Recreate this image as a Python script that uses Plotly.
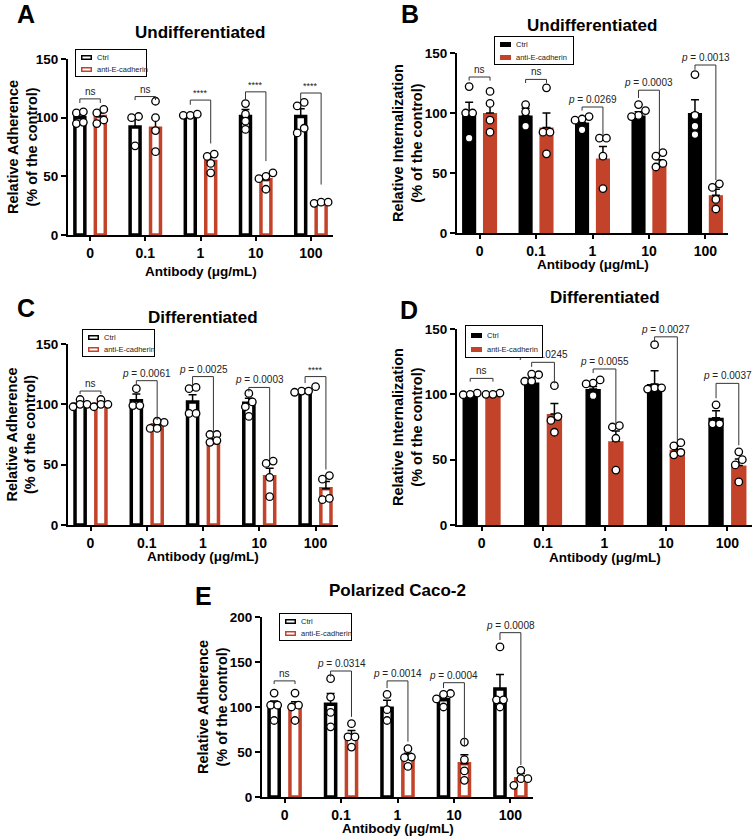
import plotly.graph_objects as go

W, H = 755, 838
FONT = "Liberation Sans, Arial, Helvetica, sans-serif"
ORANGE = "#C2432A"
BLACK = "#000000"

categories = ["0", "0.1", "1", "10", "100"]

# ---------------- Panel A (Undifferentiated, adherence)
a_ctrl_mean = [100, 92, 102, 101, 101]
a_ctrl_sem = [3, 9, 1, 6, 6.5]
a_anti_mean = [101, 91, 62.6, 47, 26.5]
a_anti_sem = [3, 9, 4, 4, 1]
a_ctrl_pts = [[104, 105, 95, 96], [101, 100, 76], [102, 102, 103], [112, 103, 97, 90], [110, 113, 91, 87]]
a_anti_pts = [[104, 107, 95, 98], [114, 100, 89, 71], [67, 69, 61, 53], [50, 53, 48, 39], [27, 28, 28]]
a_sig = ["ns", "ns", "****", "****", "****"]

# ---------------- Panel B (Undifferentiated, internalization)
b_ctrl_mean = [100, 98, 92, 98, 100]
b_ctrl_sem = [9, 6, 4, 3, 11]
b_anti_mean = [100, 88, 62, 57, 31.5]
b_anti_sem = [8, 12, 10, 4, 5]
b_ctrl_pts = [[122, 100, 100, 79], [107, 101, 89], [97, 95, 86, 94], [107, 102, 98, 97], [132, 98, 89, 82]]
b_anti_pts = [[118, 108, 94, 84], [121, 84, 84, 66], [79, 79, 64, 37], [64, 67, 55, 58], [38, 41, 28, 20]]
b_sig = ["ns", "ns", "<i>p</i> = 0.0269", "<i>p</i> = 0.0003", "<i>p</i> = 0.0013"]

# ---------------- Panel C (Differentiated, adherence)
c_ctrl_mean = [100, 103, 102, 101, 111]
c_ctrl_sem = [2, 5.5, 6, 4, 2]
c_anti_mean = [100, 83, 68, 40, 30]
c_anti_sem = [2, 2, 3.5, 7, 6]
c_ctrl_pts = [[104, 98, 100, 100], [113, 99, 99], [113, 114, 92.5, 92.5], [109, 102, 98, 90], [114.6, 111, 111, 110]]
c_anti_pts = [[104, 98, 100, 100], [85, 86, 80, 80], [75, 75, 68.5, 70], [51, 53, 39.5, 23.5], [38, 41, 21, 22]]
c_sig = ["ns", "<i>p</i> = 0.0061", "<i>p</i> = 0.0025", "<i>p</i> = 0.0003", "****"]

# ---------------- Panel D (Differentiated, internalization)
d_ctrl_mean = [100, 109, 104, 108, 82]
d_ctrl_sem = [1, 3.5, 2, 10, 5.5]
d_anti_mean = [100, 85, 64, 57.5, 45.5]
d_anti_sem = [1, 8, 8, 3, 5]
d_ctrl_pts = [[99.7, 101, 100], [115, 115.5, 110, 110], [111, 108.6, 108, 99], [138, 105, 105, 104], [92, 77.4, 77.4]]
d_anti_pts = [[100, 101, 100], [106.6, 83, 80, 71], [75, 76, 66.4, 42], [53.7, 55.5, 60.5, 63], [56, 50, 46, 33]]
d_sig = ["ns", "<i>p</i> = 0.0245", "<i>p</i> = 0.0055", "<i>p</i> = 0.0027", "<i>p</i> = 0.0037"]

# ---------------- Panel E (Polarized Caco-2, adherence)
e_ctrl_mean = [100.7, 103, 98.5, 108, 120]
e_ctrl_sem = [6, 12, 9, 3, 16]
e_anti_mean = [100.7, 68.5, 43.7, 37, 20.4]
e_anti_sem = [5, 5.5, 5, 10, 5.6]
e_ctrl_pts = [[115.5, 102, 102, 85], [131.5, 111, 94, 78], [114, 97, 85], [115, 114, 109, 100], [166.7, 108, 108, 100]]
e_anti_pts = [[115.5, 102, 100, 85], [81.5, 66.7, 66.7, 55.5], [53.7, 44.4, 43.7, 34], [61, 41.5, 29, 18.5], [29.6, 20.4, 20.4, 13]]
e_sig = ["ns", "<i>p</i> = 0.0314", "<i>p</i> = 0.0014", "<i>p</i> = 0.0004", "<i>p</i> = 0.0008"]

# ---------------- bracket geometry (layout only): (top, left leg end, right leg end)
a_brk = [(116, 112.5, 112.5), (118, 115, 115), (115, 111, 78), (122, 115, 63), (121, 115, 43)]
b_brk = [(130, 127, 127), (128, 125, 125), (105, 102, 80), (119, 112.5, 68), (140, 136, 44)]
c_brk = [(111, 108.5, 108.5), (119.6, 116, 87), (123, 116, 76), (114, 110.5, 54), (123, 117.6, 46)]
d_brk = [(112.2, 109.7, 109.7), (124.5, 121, 108.4), (119.4, 116.3, 76.5), (144, 140, 65), (108.4, 97, 61)]
e_brk = [(129, 125.5, 125.5), (140, 133.7, 89), (129, 121, 61.5), (127, 121, 56), (182.6, 174.4, 35.5)]

panels = [
    dict(letter="A", title="Undifferentiated", ytitle="Relative Adherence", hollow=True,
         ymax=150, yticks=[0, 50, 100, 150], dom=(68, 333, 59, 235),
         title_pos=(200, 33), letter_pos=(26, 14), xtitle_y=271, ytitle_x=22,
         legend=(75, 49, 72, 28),
         cm=a_ctrl_mean, cs=a_ctrl_sem, am=a_anti_mean, asem=a_anti_sem,
         cp=a_ctrl_pts, ap=a_anti_pts, sig=a_sig, brk=a_brk),
    dict(letter="B", title="Undifferentiated", ytitle="Relative Internalization", hollow=False,
         ymax=150, yticks=[0, 50, 100, 150], dom=(457, 728, 53, 233),
         title_pos=(592, 25), letter_pos=(410, 14), xtitle_y=264, ytitle_x=407,
         legend=(494, 36, 80, 29),
         cm=b_ctrl_mean, cs=b_ctrl_sem, am=b_anti_mean, asem=b_anti_sem,
         cp=b_ctrl_pts, ap=b_anti_pts, sig=b_sig, brk=b_brk),
    dict(letter="C", title="Differentiated", ytitle="Relative Adherence", hollow=True,
         ymax=150, yticks=[0, 50, 100, 150], dom=(68, 338, 344, 525),
         title_pos=(203, 317), letter_pos=(26, 308), xtitle_y=556, ytitle_x=21,
         legend=(82, 329, 73, 28),
         cm=c_ctrl_mean, cs=c_ctrl_sem, am=c_anti_mean, asem=c_anti_sem,
         cp=c_ctrl_pts, ap=c_anti_pts, sig=c_sig, brk=c_brk),
    dict(letter="D", title="Differentiated", ytitle="Relative Internalization", hollow=False,
         ymax=150, yticks=[0, 50, 100, 150], dom=(457, 752, 329, 525),
         title_pos=(605, 298), letter_pos=(409, 310), xtitle_y=557, ytitle_x=407,
         legend=(465, 325, 78, 33),
         cm=d_ctrl_mean, cs=d_ctrl_sem, am=d_anti_mean, asem=d_anti_sem,
         cp=d_ctrl_pts, ap=d_anti_pts, sig=d_sig, brk=d_brk),
    dict(letter="E", title="Polarized Caco-2", ytitle="Relative Adherence", hollow=True,
         ymax=200, yticks=[0, 50, 100, 150, 200], dom=(262, 533, 617, 797),
         title_pos=(397, 590), letter_pos=(203, 596), xtitle_y=828, ytitle_x=212,
         legend=(279, 613, 73, 28),
         cm=e_ctrl_mean, cs=e_ctrl_sem, am=e_anti_mean, asem=e_anti_sem,
         cp=e_ctrl_pts, ap=e_anti_pts, sig=e_sig, brk=e_brk),
]

XR = (-0.4, 4.4)
OFF = 0.185


def px(x):
    return x / W


def py(y):
    return 1 - y / H


def swarm(vals, ypx, xpx, dpx=7.0, thr=7.0):
    order = sorted(range(len(vals)), key=lambda k: vals[k])
    rows = []
    for k in order:
        if rows and abs(vals[k] - vals[rows[-1][0]]) * ypx < thr:
            rows[-1].append(k)
        else:
            rows.append([k])
    off = [0.0] * len(vals)
    for r in rows:
        n = len(r)
        for j, k in enumerate(r):
            off[k] = (j - (n - 1) / 2) * dpx / xpx
    return off


fig = go.Figure()
layout = dict(width=W, height=H, margin=dict(l=0, r=0, t=0, b=0, autoexpand=False),
              plot_bgcolor="white", paper_bgcolor="white", showlegend=False,
              font=dict(family=FONT, color="black"))
shapes = []
ann_sig = []
ann_leg = []
ann_txt = []

for n, p in enumerate(panels, 1):
    sx = "" if n == 1 else str(n)
    xref, yref = "x" + sx, "y" + sx
    x0, x1, y0, y1 = p["dom"]
    xpx = (x1 - x0) / (XR[1] - XR[0])
    ypx = (y1 - y0) / p["ymax"]
    idx = list(range(len(categories)))

    for means, sems, pts, col, sign in [(p["cm"], p["cs"], p["cp"], BLACK, -1),
                                        (p["am"], p["asem"], p["ap"], ORANGE, 1)]:
        bx = [i + sign * OFF for i in idx]
        if p["hollow"]:
            marker = dict(color="white", line=dict(color=col, width=3.5))
            width = 0.18
        else:
            marker = dict(color=col, line=dict(width=0))
            width = 0.25
        fig.add_trace(go.Bar(x=bx, y=means, width=width, marker=marker,
                             error_y=dict(type="data", array=sems, arrayminus=[0] * len(sems),
                                          symmetric=False, color="black", thickness=1.5, width=4),
                             xaxis=xref, yaxis=yref, hoverinfo="skip"))
        sxs, sys = [], []
        for i, vals in enumerate(pts):
            offs = swarm(vals, ypx, xpx)
            for v, o in zip(vals, offs):
                sxs.append(i + sign * OFF + o)
                sys.append(v)
        fig.add_trace(go.Scatter(x=sxs, y=sys, mode="markers",
                                 marker=dict(symbol="circle", size=7.5, color="white",
                                             line=dict(color="black", width=1.3)),
                                 xaxis=xref, yaxis=yref, cliponaxis=False, hoverinfo="skip"))

    layout["xaxis" + sx] = dict(domain=[px(x0), px(x1)], anchor=yref, range=list(XR),
                                tickvals=idx, ticktext=categories, showline=True,
                                linecolor="black", linewidth=2, ticks="outside", ticklen=4,
                                tickwidth=2, tickcolor="black", showgrid=False, zeroline=False,
                                tickfont=dict(family=FONT, size=14, color="black", weight="bold"),
                                fixedrange=True, automargin=False)
    layout["yaxis" + sx] = dict(domain=[py(y1), py(y0)], anchor=xref, range=[0, p["ymax"]],
                                tickvals=p["yticks"], showline=True, linecolor="black", linewidth=2,
                                ticks="outside", ticklen=5, tickwidth=2, tickcolor="black",
                                showgrid=False, zeroline=False,
                                tickfont=dict(family=FONT, size=13.5, color="black", weight="bold"),
                                fixedrange=True, automargin=False)

    # significance brackets
    for i, (lab, (yt, yl, yr)) in enumerate(zip(p["sig"], p["brk"])):
        xl, xr = i - OFF, i + OFF
        shapes.append(dict(type="path", xref=xref, yref=yref,
                           path=f"M {xl},{yl} L {xl},{yt} L {xr},{yt} L {xr},{yr}",
                           line=dict(color="#333333", width=1)))
        size = 9 if lab.startswith("*") else 10
        ann_sig.append(dict(x=i, y=yt, xref=xref, yref=yref, text=lab, showarrow=False,
                            xanchor="center", yanchor="bottom", yshift=0,
                            font=dict(family=FONT, size=size, color="#222222")))

    # legend box (drawn as annotations so it sits over the p-value text)
    lx, ly, lw, lh = p["legend"]
    ann_leg.append(dict(xref="paper", yref="paper", x=px(lx), y=py(ly), xanchor="left",
                        yanchor="top", text=" ", width=lw - 2, height=lh - 2, bgcolor="white",
                        bordercolor="black", borderwidth=1, borderpad=0, showarrow=False,
                        font=dict(size=6)))
    for r, (name, col) in enumerate([("Ctrl", BLACK), ("anti-E-cadherin", ORANGE)]):
        cy = ly + (0.31 if r == 0 else 0.74) * lh
        if p["hollow"]:
            icon = dict(width=8, height=2, bgcolor="white", bordercolor=col, borderwidth=1.5)
        else:
            icon = dict(width=11, height=5, bgcolor=col, borderwidth=0)
        ann_leg.append(dict(xref="paper", yref="paper", x=px(lx + 6), y=py(cy), xanchor="left",
                            yanchor="middle", text=" ", borderpad=0, showarrow=False,
                            font=dict(size=4), **icon))
        ann_leg.append(dict(xref="paper", yref="paper", x=px(lx + 20), y=py(cy), xanchor="left",
                            yanchor="middle", text=name, showarrow=False,
                            font=dict(family=FONT, size=7.5, color="#222222")))

    # titles
    tx, ty = p["title_pos"]
    ann_txt.append(dict(xref="paper", yref="paper", x=px(tx), y=py(ty), text=p["title"],
                        showarrow=False, xanchor="center", yanchor="middle",
                        font=dict(family=FONT, size=17, color="black", weight="bold")))
    lx_, ly_ = p["letter_pos"]
    ann_txt.append(dict(xref="paper", yref="paper", x=px(lx_), y=py(ly_), text=p["letter"],
                        showarrow=False, xanchor="center", yanchor="middle",
                        font=dict(family=FONT, size=25, color="black", weight="bold")))
    ann_txt.append(dict(xref="paper", yref="paper", x=px((x0 + x1) / 2), y=py(p["xtitle_y"]),
                        text="Antibody (μg/mL)", showarrow=False, xanchor="center",
                        yanchor="middle",
                        font=dict(family=FONT, size=13.5, color="black", weight="bold")))
    ann_txt.append(dict(xref="paper", yref="paper", x=px(p["ytitle_x"]), y=py((y0 + y1) / 2),
                        text=p["ytitle"] + "<br>(% of the control)", showarrow=False,
                        textangle=-90, xanchor="center", yanchor="middle",
                        font=dict(family=FONT, size=14.5, color="black", weight="bold")))

layout["shapes"] = shapes
layout["annotations"] = ann_sig + ann_leg + ann_txt
fig.update_layout(**layout)
fig.write_html("out.html", config={"displayModeBar": False, "staticPlot": True},
               post_script="document.body.style.margin='0';document.body.style.padding='0';")
